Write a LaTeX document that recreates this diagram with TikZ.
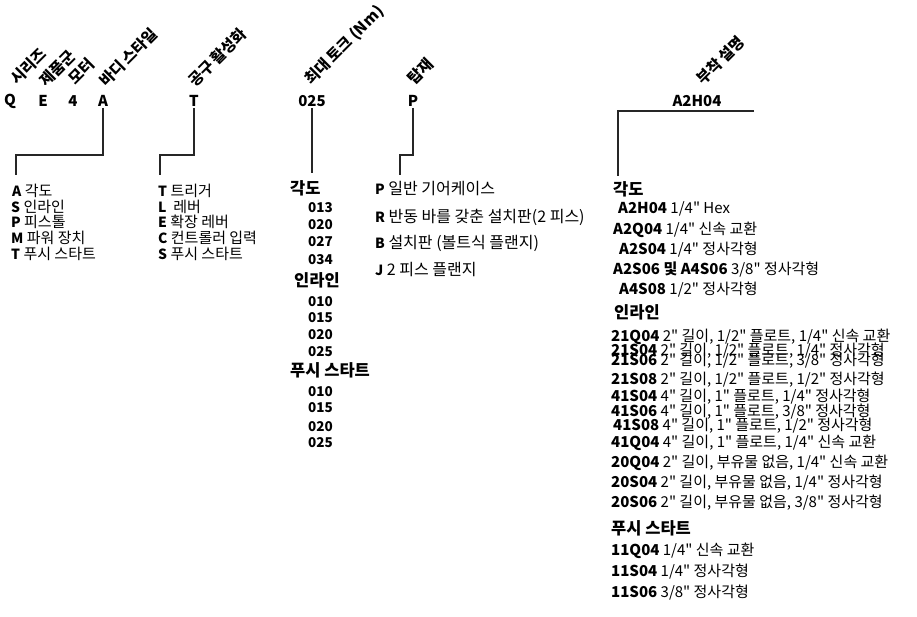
\documentclass[tikz,border=0pt]{standalone}
\usepackage{fontspec}
\newfontfamily\krfont{Noto Sans CJK KR}
\usetikzlibrary{positioning}

\newcommand{\keyletter}[1]{{\fontsize{14}{16}\selectfont\bfseries #1}}

\tikzset{
  code/.style={font=\krfont\fontsize{15}{18}\selectfont\bfseries, inner sep=1pt},
  head/.style={font=\krfont\fontsize{15.5}{18}\selectfont\bfseries, rotate=45, anchor=base west, inner sep=0pt},
  item/.style={anchor=west, font=\krfont\fontsize{15}{16}\selectfont, inner sep=1pt},
  mount/.style={anchor=west, font=\krfont\fontsize{16}{18}\selectfont, inner sep=1pt},
  num/.style={anchor=west, font=\krfont\fontsize{13.5}{15}\selectfont\bfseries, inner sep=1pt},
  grp/.style={anchor=west, font=\krfont\fontsize{16.5}{18}\selectfont\bfseries, inner sep=1pt},
  sub/.style={anchor=west, font=\krfont\fontsize{15}{16}\selectfont, inner sep=1pt},
  conn/.style={draw=black!85, line width=1.8pt},
}

\begin{document}
\begin{tikzpicture}[x=1pt, y=-1pt]
    \useasboundingbox (0,0) rectangle (917,616);

    % Rotated column titles
    \node[head] (hSeries) at (17,86)  {시리즈};
    \node[head] (hFamily) at (46,88)  {제품군};
    \node[head] (hMotor)  at (75,86)  {모터};
    \node[head] (hBody)   at (106,88) {바디 스타일};
    \node[head] (hTool)   at (195,88) {공구 활성화};
    \node[head] (hTorque) at (311,86) {최대 토크 (Nm)};
    \node[head] (hMount)  at (414,86) {탑재};
    \node[head] (hAcc)    at (703,86) {부착 설명};

    % Model code
    \node[code] (q)    at (10,101)  {Q};
    \node[code] (e)    at (43,101)  {E};
    \node[code] (four) at (73,101)  {4};
    \node[code] (a)    at (103,101) {A};
    \node[code] (t)    at (194,101) {T};
    \node[code] (trq)  at (312,101) {025};
    \node[code] (p)    at (413,101) {P};
    \node[code] (acc)  at (697,101) {A2H04};

    % Body style
    \node[item] (bA) at (11,191) {\keyletter{A} 각도};
    \node[item] (bS) at (10,207) {\keyletter{S} 인라인};
    \node[item] (bP) at (10,222) {\keyletter{P} 피스톨};
    \node[item] (bM) at (10,238) {\keyletter{M} 파워 장치};
    \node[item] (bT) at (10,254) {\keyletter{T} 푸시 스타트};

    % Tool activation
    \node[item] (tT) at (157,191) {\keyletter{T} 트리거};
    \node[item] (tL) at (157,207) {\keyletter{L}\ \ 레버};
    \node[item] (tE) at (157,222) {\keyletter{E} 확장 레버};
    \node[item] (tC) at (157,238) {\keyletter{C} 컨트롤러 입력};
    \node[item] (tS) at (157,254) {\keyletter{S} 푸시 스타트};

    % Max torque
    \node[grp] (mAng)  at (289,188) {각도};
    \node[num] (m013)  at (307,208) {013};
    \node[num] (m020)  at (307,225) {020};
    \node[num] (m027)  at (307,242) {027};
    \node[num] (m034)  at (307,260) {034};
    \node[grp] (mIn)   at (293,280) {인라인};
    \node[num] (m010)  at (307,302) {010};
    \node[num] (m015)  at (307,318) {015};
    \node[num] (m020b) at (307,335) {020};
    \node[num] (m025)  at (307,352) {025};
    \node[grp] (mPush) at (289,370) {푸시 스타트};
    \node[num] (m010b) at (307,392) {010};
    \node[num] (m015b) at (307,408) {015};
    \node[num] (m020c) at (307,427) {020};
    \node[num] (m025b) at (307,443) {025};

    % Mounting
    \node[mount] (pP) at (374,189) {\keyletter{P} 일반 기어케이스};
    \node[mount] (pR) at (374,217) {\keyletter{R} 반동 바를 갖춘 설치판(2 피스)};
    \node[mount] (pB) at (374,243) {\keyletter{B} 설치판 (볼트식 플랜지)};
    \node[mount] (pJ) at (374,270) {\keyletter{J} 2 피스 플랜지};

    % Attachment
    \node[grp] (rAng)  at (612,189) {각도};
    \node[sub] (rA2H)  at (617,209) {\textbf{A2H04} 1/4" Hex};
    \node[sub] (rA2Q)  at (612,230) {\textbf{A2Q04} 1/4" 신속 교환};
    \node[sub] (rA2S)  at (618,250) {\textbf{A2S04} 1/4" 정사각형};
    \node[sub] (rA2S6) at (612,270) {\textbf{A2S06 및 A4S06} 3/8" 정사각형};
    \node[sub] (rA4S8) at (618,290) {\textbf{A4S08} 1/2" 정사각형};
    \node[grp] (rIn)   at (613,312) {인라인};
    \node[sub] (r21Q4) at (610,337) {\textbf{21Q04} 2" 길이, 1/2" 플로트, 1/4" 신속 교환};
    \node[sub] (r21S4) at (610,351) {\textbf{21S04} 2" 길이, 1/2" 플로트, 1/4" 정사각형};
    \node[sub] (r21S6) at (610,361) {\textbf{21S06} 2" 길이, 1/2" 플로트, 3/8" 정사각형};
    \node[sub] (r21S8) at (610,380) {\textbf{21S08} 2" 길이, 1/2" 플로트, 1/2" 정사각형};
    \node[sub] (r41S4) at (610,397) {\textbf{41S04} 4" 길이, 1" 플로트, 1/4" 정사각형};
    \node[sub] (r41S6) at (610,412) {\textbf{41S06} 4" 길이, 1" 플로트, 3/8" 정사각형};
    \node[sub] (r41S8) at (612,426) {\textbf{41S08} 4" 길이, 1" 플로트, 1/2" 정사각형};
    \node[sub] (r41Q4) at (610,443) {\textbf{41Q04} 4" 길이, 1" 플로트, 1/4" 신속 교환};
    \node[sub] (r20Q4) at (610,463) {\textbf{20Q04} 2" 길이, 부유물 없음, 1/4" 신속 교환};
    \node[sub] (r20S4) at (610,483) {\textbf{20S04} 2" 길이, 부유물 없음, 1/4" 정사각형};
    \node[sub] (r20S6) at (610,503) {\textbf{20S06} 2" 길이, 부유물 없음, 3/8" 정사각형};
    \node[grp] (rPush) at (610,528) {푸시 스타트};
    \node[sub] (r11Q4) at (610,551) {\textbf{11Q04} 1/4" 신속 교환};
    \node[sub] (r11S4) at (610,572) {\textbf{11S04} 1/4" 정사각형};
    \node[sub] (r11S6) at (610,593) {\textbf{11S06} 3/8" 정사각형};

    % Leader lines
    \draw[conn] (a.south) -- (a.south |- 0,155) -| ([xshift=5pt,yshift=8pt]bA.north west);
    \draw[conn] (t.south) -- (t.south |- 0,155) -| ([xshift=3pt,yshift=8pt]tT.north west);
    \draw[conn] (trq.south) -- ([yshift=6pt]trq.south |- mAng.north);
    \draw[conn] (p.south) -- (p.south |- 0,155) -| ([xshift=26pt,yshift=6pt]pP.north west);
    \coordinate (accEnd) at (754,111);
    \draw[conn] (accEnd) -| ([xshift=6pt,yshift=4pt]rAng.north west);

\end{tikzpicture}
\end{document}
